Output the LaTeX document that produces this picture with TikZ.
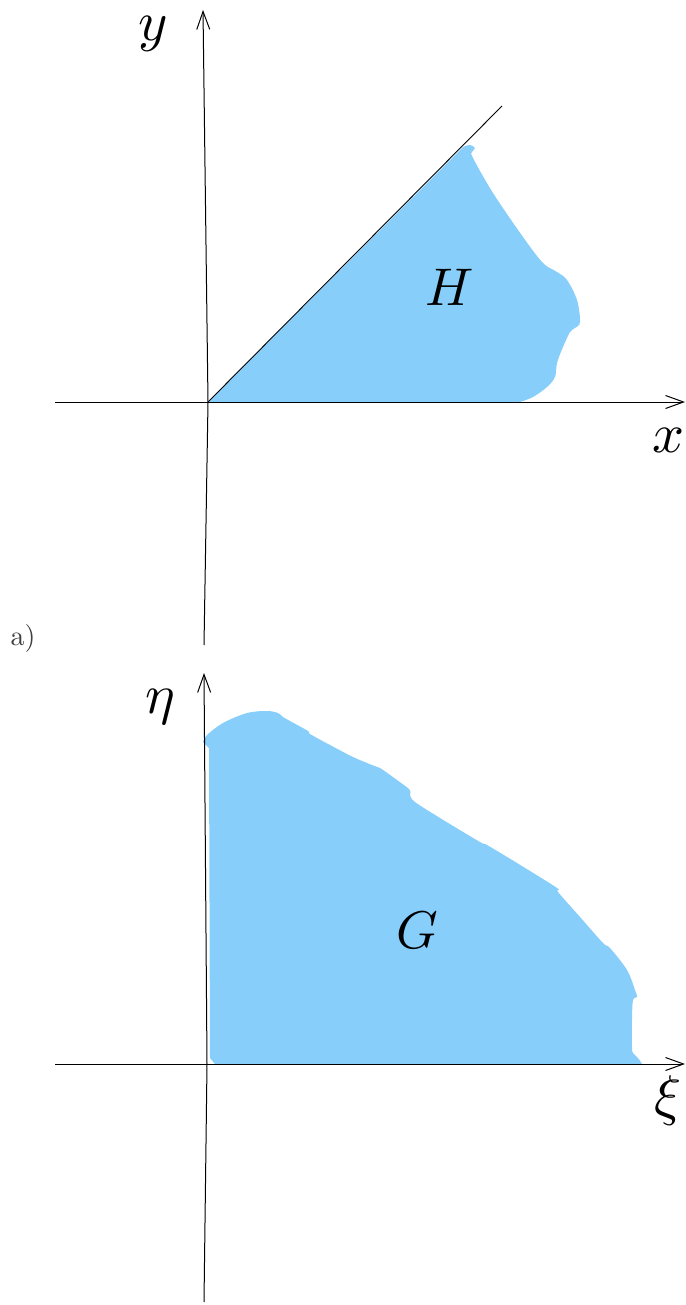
\documentclass[tikz,border=0pt]{standalone}
\usepackage{tikz}
\usetikzlibrary{positioning}
\usetikzlibrary{arrows.meta}
\definecolor{regionblue}{RGB}{135,206,250}

\begin{document}
\begin{tikzpicture}[
    x=1pt, y=-1pt,
    axis/.style={line width=1pt, -{Straight Barb[length=18pt, width=13pt, line width=1pt]}},
    region/.style={fill=regionblue, draw=none},
    axlabel/.style={scale=5.6, inner sep=0pt},
    domlabel/.style={scale=5.3, inner sep=0pt},
]
\useasboundingbox (0,0) rectangle (685,1305);

% Upper plane
\coordinate (oxy)   at (208,402);
\coordinate (ytop)  at (203,10);
\coordinate (ybot)  at (204,645);
\coordinate (xleft) at (55,402);
\coordinate (xend)  at (685,402);
\coordinate (diag)  at (502,106);

\fill[region] (oxy) -- plot[smooth, tension=0.55] coordinates {
    (463,147) (470,145) (475,148) (472,152) (473,158) (493,193) (523,237)
    (543,263) (557,272) (567,280) (577,300) (580,322) (575,328) (570,332)
    (563,347) (557,363) (555,377) (547,387) (533,397) (520,402)} -- cycle;

\draw[axis] (xleft) -- (xend);
\draw[axis] (ybot) -- (oxy) -- (ytop);
\draw[line width=0.9pt] (oxy) -- (diag);

\node[axlabel] (ylab) at (153,34)  {$y$};
\node[axlabel] (xlab) at (668,440) {$x$};
\node[domlabel] (hlab) at (450,287) {$H$};

% Caption
\node[scale=2.8, text=black!75, inner sep=0pt] (tag) at (23,638) {a)};

% Lower plane
\coordinate (oxe)   at (207,1064);
\coordinate (etop)  at (204,673);
\coordinate (ebot)  at (204,1302);
\coordinate (eleft) at (55,1064);
\coordinate (eend)  at (685,1064);

\fill[region] (215,1064) -- (210,1058) -- (209,748) --
    plot[smooth, tension=0.55] coordinates {
    (203,742) (207,735) (223,723) (247,713) (267,711) (278,713) (283,717)
    (290,721) (308,731) (310,734) (330,745) (353,757) (372,765) (380,768)
    (397,780) (410,790) (410,795) (415,802) (440,818) (480,842) (487,845)
    (517,863) (557,888) (558,892) (580,917) (603,943) (610,948) (627,970)
    (635,990) (637,997) (633,1000) (632,1020) (632,1047) (633,1053)
    (638,1058) (642,1064)} -- cycle;

\draw[axis] (eleft) -- (eend);
\draw[axis] (ebot) -- (oxe) -- (etop);

\node[axlabel] (etalab) at (160,707)  {$\eta$};
\node[axlabel] (xilab)  at (668,1100) {$\xi$};
\node[domlabel] (glab)  at (417,930)  {$G$};

\end{tikzpicture}
\end{document}
